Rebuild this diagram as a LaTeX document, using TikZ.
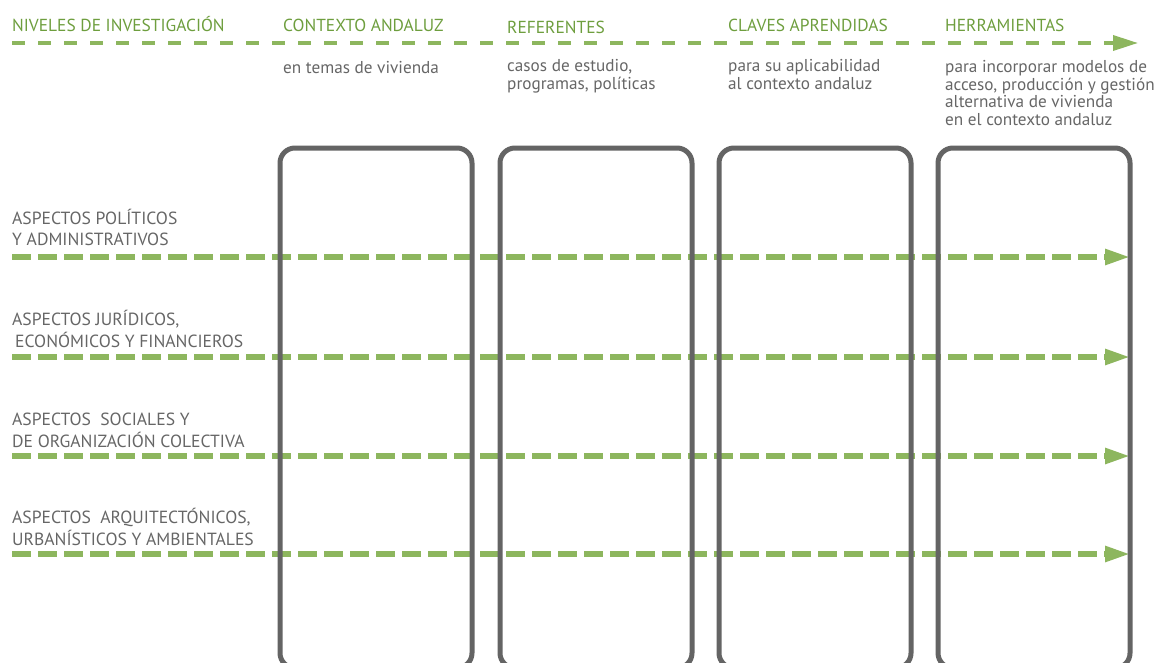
\documentclass[tikz,border=0pt]{standalone}
\usepackage{fontspec}
\setmainfont{PT Sans}
\usepackage{tikz}
\usetikzlibrary{arrows.meta}
\usetikzlibrary{positioning,backgrounds}

\definecolor{leafgreen}{HTML}{8DB65E}
\definecolor{headgreen}{HTML}{6E9E3E}
\definecolor{notegrey}{HTML}{666666}
\definecolor{framegrey}{HTML}{646464}

\begin{document}
\begin{tikzpicture}[x=1pt, y=-1pt,
        header/.style={anchor=base west, inner sep=0, text=headgreen,
                       font=\fontsize{17.4}{20}\selectfont},
        note/.style={anchor=base west, inner sep=0, align=left, text=notegrey,
                     font=\fontsize{17.2}{17.4}\selectfont},
        aspect/.style={anchor=base west, inner sep=0, align=left, text=notegrey,
                       font=\fontsize{17.6}{21.5}\selectfont},
        column/.style={draw=framegrey, line width=5pt, rounded corners=15pt,
                       minimum width=192pt, minimum height=520pt, inner sep=0,
                       outer sep=0, anchor=north west},
        levelline/.style={leafgreen, line width=5.5pt, dash pattern=on 19pt off 7pt,
                          -{Triangle[length=25pt, width=15pt]}},
        topline/.style={leafgreen, line width=3.5pt, dash pattern=on 13pt off 13pt,
                        -{Triangle[length=25pt, width=15pt]}}]
        \path[clip] (0, 0) rectangle (1169, 662);

        % column headings
        \node[header] (lvhead) at (12, 31) {NIVELES DE INVESTIGACIÓN};
        \node[header] (ctxhead) at (283, 31) {CONTEXTO ANDALUZ};
        \node[header] (refhead) at (507, 33) {REFERENTES};
        \node[header] (keyhead) at (728, 31) {CLAVES APRENDIDAS};
        \node[header] (toolhead) at (945, 31) {HERRAMIENTAS};

        \coordinate (top) at (12, 43);
        \coordinate (topend) at (1138, 43);
        \draw[topline] (top) -- (topend);

        % notes under the headings (base = last line)
        \node[note] (ctxnote) at (283, 73) {en temas de vivienda};
        \node[note] (refnote) at (507, 89) {casos de estudio,\\programas, políticas};
        \node[note] (keynote) at (728, 89) {para su aplicabilidad\\al contexto andaluz};
        \node[note] (toolnote) at (945, 125) {para incorporar modelos de\\acceso, producción y gestión\\alternativa de vivienda\\en el contexto andaluz};

        % the four columns
        \node[column] (col1) at (280, 148) {};
        \node[column] (col2) at (500, 148) {};
        \node[column] (col3) at (719, 148) {};
        \node[column] (col4) at (938, 148) {};

        % rows
        \node[aspect] (asp1) at (12, 245.5) {ASPECTOS POLÍTICOS\\Y ADMINISTRATIVOS};
        \node[aspect] (asp2) at (12, 347) {ASPECTOS JURÍDICOS,\\\hspace*{3pt}ECONÓMICOS Y FINANCIEROS};
        \node[aspect] (asp3) at (12, 447) {ASPECTOS\ \ SOCIALES Y\\DE ORGANIZACIÓN COLECTIVA};
        \node[aspect] (asp4) at (12, 545) {ASPECTOS\ \ ARQUITECTÓNICOS,\\URBANÍSTICOS Y AMBIENTALES};

        \coordinate (lv1) at (12, 257);
        \coordinate (lv2) at (12, 357);
        \coordinate (lv3) at (12, 456);
        \coordinate (lv4) at (12, 554);
        \begin{pgfonlayer}{background}
            \foreach \r in {1, 2, 3, 4}
                \draw[levelline] (lv\r) -- (lv\r -| col4.east);
        \end{pgfonlayer}
\end{tikzpicture}
\end{document}
